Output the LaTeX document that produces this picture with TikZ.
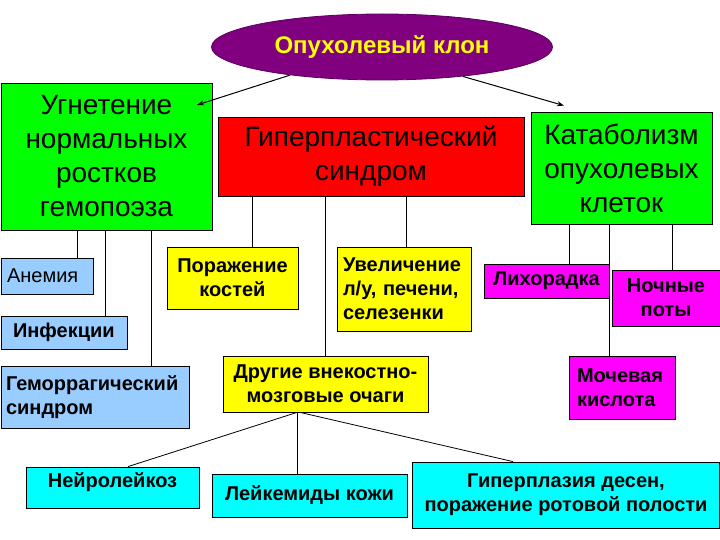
\documentclass[tikz,border=0pt]{standalone}
\usepackage{fontspec}
\setmainfont{Liberation Sans}
\usetikzlibrary{shapes.geometric,arrows.meta}
\definecolor{cgreen}{RGB}{0,255,0}
\definecolor{cred}{RGB}{255,0,0}
\definecolor{cblue}{RGB}{153,204,255}
\definecolor{cyel}{RGB}{255,255,0}
\definecolor{cmag}{RGB}{255,0,255}
\definecolor{ccyan}{RGB}{0,255,255}
\definecolor{cpurp}{RGB}{128,0,128}
\begin{document}
\begin{tikzpicture}[x=1pt,y=-1pt,
  box/.style={draw=black,line width=0.8pt,rectangle,inner sep=0pt,align=center},
  big/.style={font=\fontsize{28}{34}\selectfont},
  sm/.style={font=\bfseries\fontsize{20}{24}\selectfont},
  conn/.style={line width=0.8pt},
  arr/.style={line width=1pt,-{Stealth[length=7pt,width=5pt]}}]
\useasboundingbox (0,0) rectangle (720,540);

\node[ellipse,draw=cpurp!70!black,line width=0.8pt,fill=cpurp,inner sep=0pt,
  minimum width=341pt,minimum height=66pt,text=cyel,
  font=\bfseries\fontsize{24}{28}\selectfont] (ell) at (382,47) {Опухолевый клон};

\node[box,fill=cgreen,minimum width=211pt,minimum height=147pt,big] (g1) at (106.5,156.5)
  {Угнетение\\нормальных\\ростков\\гемопоэза};
\node[box,fill=cred,minimum width=306pt,minimum height=79pt,big] (red) at (371,156.5)
  {Гиперпластический\\синдром};
\node[box,fill=cgreen,minimum width=181pt,minimum height=112pt,big] (g2) at (621.5,168)
  {Катаболизм\\опухолевых\\клеток};

\node[box,fill=cblue,minimum width=92pt,minimum height=36pt,inner xsep=6pt,text width=80pt,align=left,
  font=\fontsize{20}{24}\selectfont] (anem) at (47,276) {Анемия};
\node[box,fill=cblue,minimum width=126pt,minimum height=33pt,inner xsep=12pt,text width=102pt,align=left,sm] (inf) at (64,332.5) {Инфекции};
\node[box,fill=cblue,minimum width=188pt,minimum height=62pt,inner xsep=5pt,text width=178pt,align=left,sm] (gem) at (95,397)
  {Геморрагический\\синдром};

\node[box,fill=cyel,minimum width=131pt,minimum height=62pt,sm] (por) at (232.5,278) {Поражение\\костей};
\node[box,fill=cyel,minimum width=134pt,minimum height=84pt,inner xsep=6pt,text width=122pt,align=left,sm] (uvel) at (404,289)
  {Увеличение\\л/у, печени,\\селезенки};
\node[box,fill=cyel,minimum width=205pt,minimum height=56pt,sm] (dr) at (325.5,384)
  {Другие внекостно-\\мозговые очаги};

\node[box,fill=cmag,minimum width=125pt,minimum height=34pt,sm] (lih) at (546.5,281) {Лихорадка};
\node[box,fill=cmag,minimum width=108pt,minimum height=56pt,sm] (noch) at (666,298) {Ночные\\поты};
\node[box,fill=cmag,minimum width=106pt,minimum height=63pt,inner xsep=8pt,text width=90pt,align=left,sm] (moch) at (622,387.5)
  {Мочевая\\кислота};

\node[box,fill=ccyan,minimum width=173pt,minimum height=41pt,text height=14pt,text depth=14pt,sm] (neir) at (112.5,487.5) {Нейролейкоз};
\node[box,fill=ccyan,minimum width=195pt,minimum height=43pt,sm] (leik) at (309.5,495.5) {Лейкемиды кожи};
\node[box,fill=ccyan,minimum width=307pt,minimum height=66pt,sm] (gip) at (566,495)
  {Гиперплазия десен,\\поражение ротовой полости};

% arrows from the clone
\coordinate (a1) at (197,105);
\draw[arr] (ell.197) -- (a1);
\draw[arr] (ell.340) -- ([xshift=-57.5pt,yshift=6pt]g2.north);

% connectors
\draw[conn] ([xshift=30pt]anem.north) -- ([xshift=30pt]anem.north |- g1.south);
\draw[conn] ([xshift=41pt]inf.north) -- ([xshift=41pt]inf.north |- g1.south);
\draw[conn] ([xshift=56pt]gem.north) -- ([xshift=56pt]gem.north |- g1.south);

\draw[conn] ([xshift=19.5pt]por.north) -- ([xshift=19.5pt]por.north |- red.south);
\draw[conn] (dr.north) -- (dr.north |- red.south);
\draw[conn] ([xshift=2pt]uvel.north) -- ([xshift=2pt]uvel.north |- red.south);

\draw[conn] ([xshift=22.5pt]lih.north) -- ([xshift=22.5pt]lih.north |- g2.south);
\draw[conn] ([xshift=-13pt]moch.north) -- ([xshift=-13pt]moch.north |- g2.south);
\draw[conn] ([xshift=6pt]noch.north) -- ([xshift=6pt]noch.north |- g2.south);

\draw[conn] ([xshift=-28.5pt]dr.south) -- ([xshift=15.5pt]neir.north);
\draw[conn] ([xshift=-28.5pt]dr.south) -- ([xshift=-12.5pt]leik.north);
\draw[conn] ([xshift=-25.5pt]dr.south) -- ([xshift=-53pt]gip.north);
\end{tikzpicture}
\end{document}
